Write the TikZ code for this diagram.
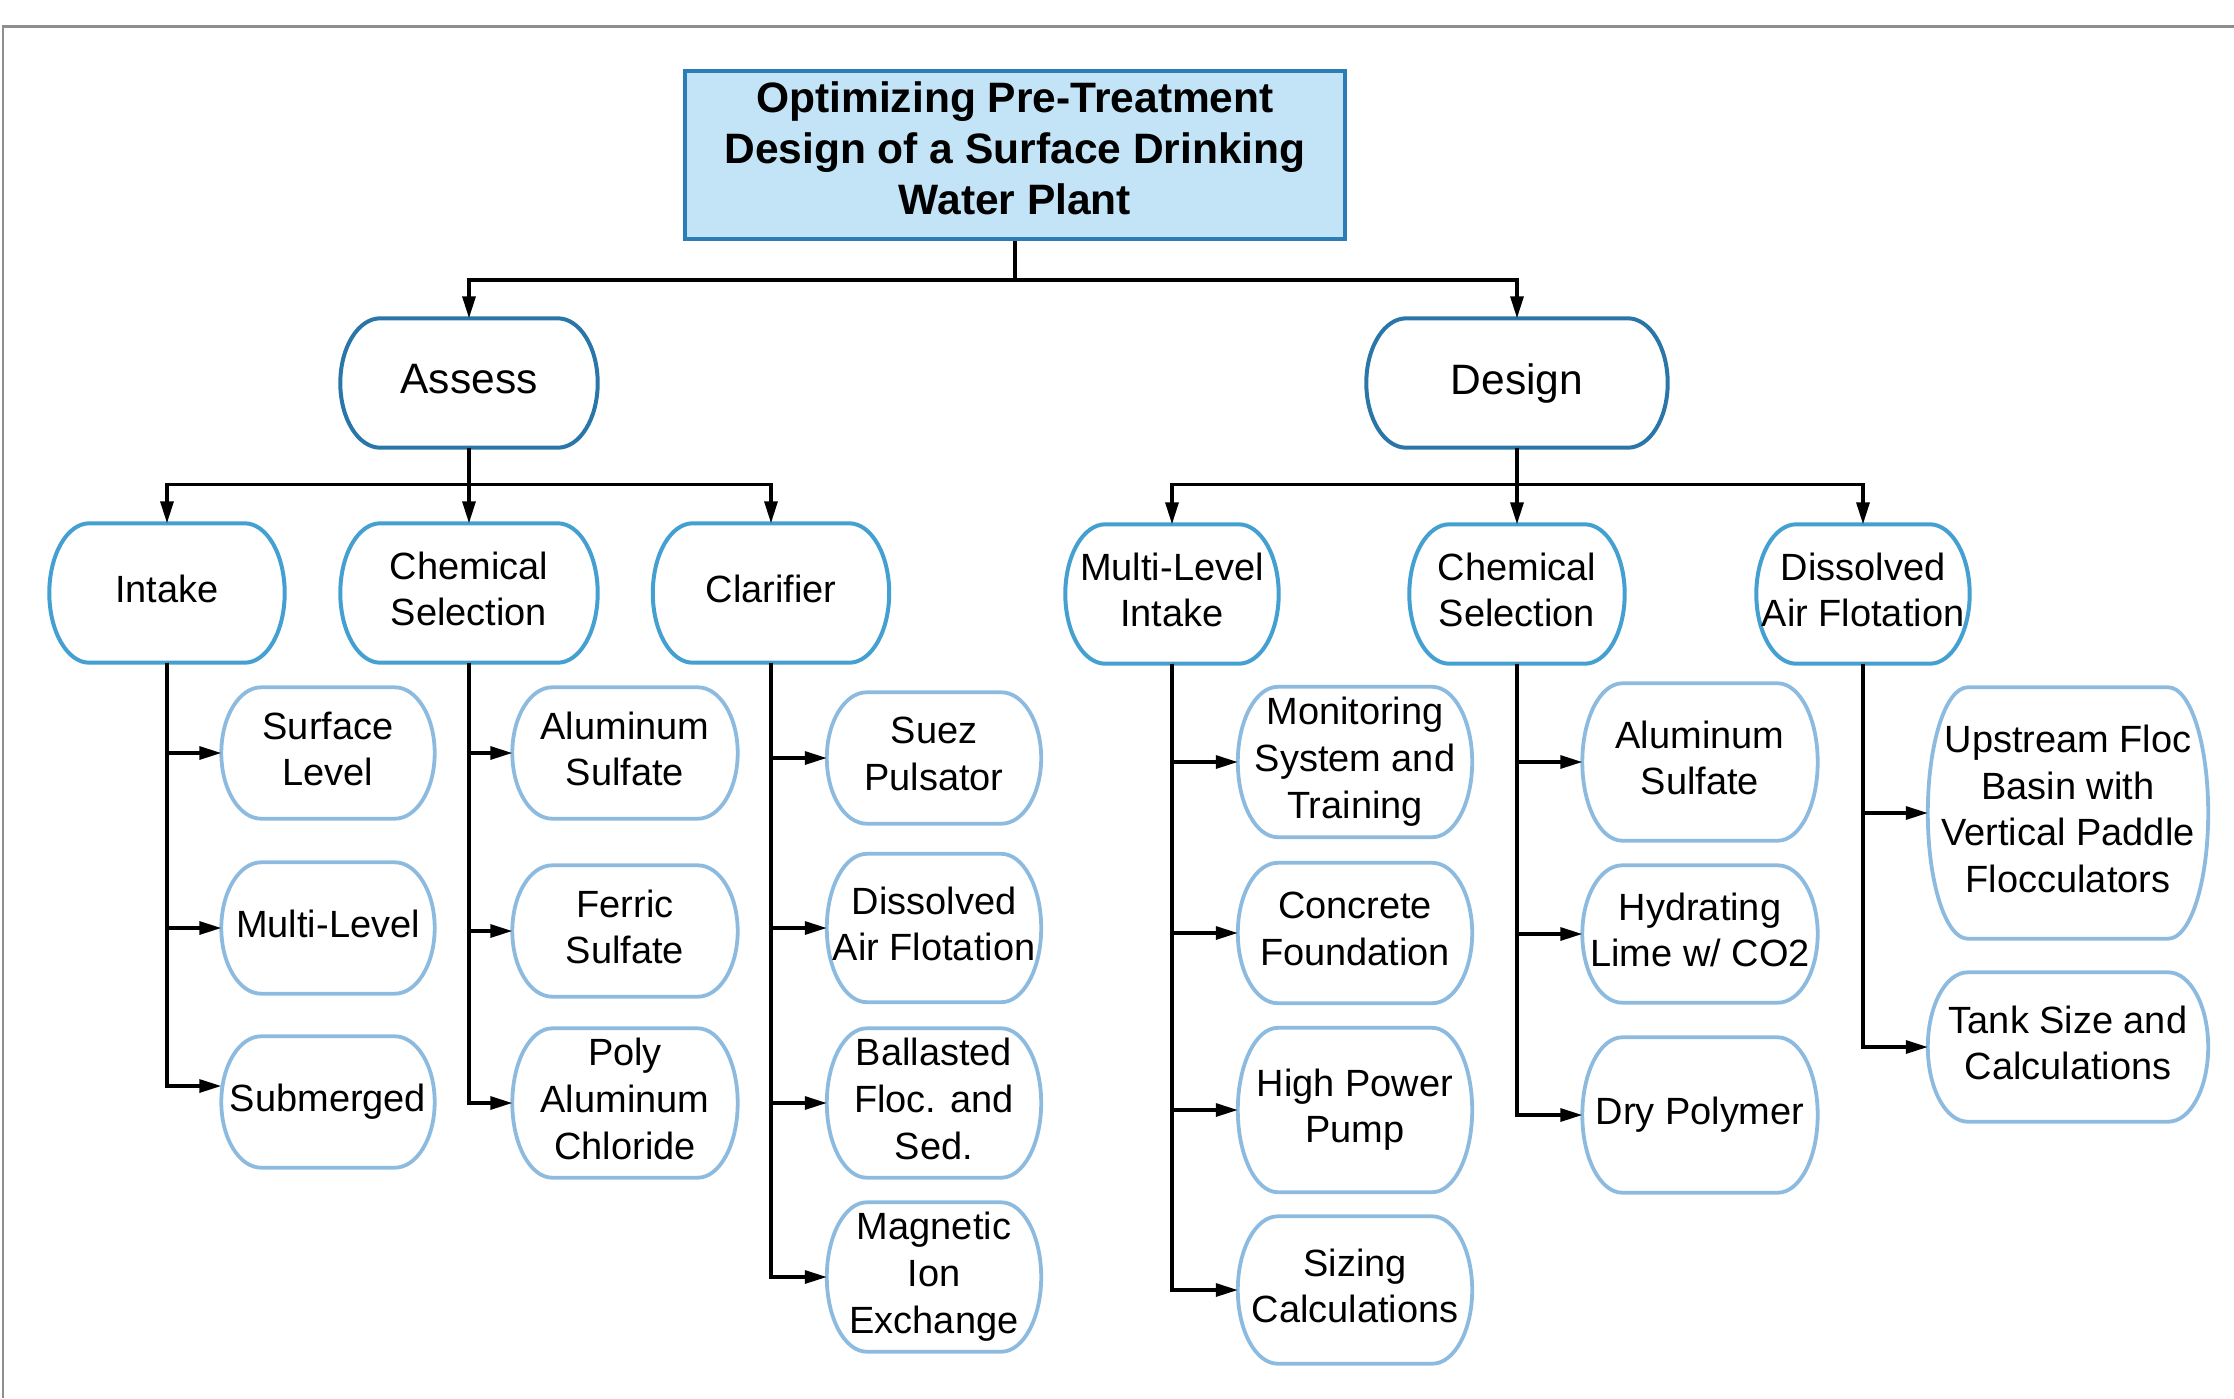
\documentclass[tikz,border=0pt]{standalone}
\usepackage{fontspec}
\setmainfont{Liberation Sans}
\usetikzlibrary{arrows.meta,calc}
\definecolor{titlefill}{HTML}{C3E3F6}
\definecolor{titleline}{HTML}{2A7DB5}
\definecolor{topline}{HTML}{2A76A8}
\definecolor{midline}{HTML}{45A0D2}
\definecolor{leafline}{HTML}{8DBBE0}
\definecolor{frameline}{HTML}{8E8E8E}

\begin{document}
\begin{tikzpicture}[x=0.1mm,y=-0.1mm,
    every node/.style={align=center,inner sep=0pt},
    pill/.style={text depth=0.85mm,append after command={\pgfextra{
        \draw[#1] let \p1=(\tikzlastnode.north west), \p2=(\tikzlastnode.south east) in
          (\x1+4mm,\y1) -- (\x2-4mm,\y1)
          arc[start angle=90,end angle=-90,x radius=4mm,y radius={(\y1-\y2)/2}]
          -- (\x1+4mm,\y2)
          arc[start angle=270,end angle=90,x radius=4mm,y radius={(\y1-\y2)/2}] -- cycle;}}},
    topnode/.style={pill={draw=topline,line width=0.4mm},minimum height=12.8mm,font=\fontsize{12.1}{14}\selectfont},
    midnode/.style={pill={draw=midline,line width=0.4mm},minimum height=13.8mm,font=\fontsize{10.8}{13.2}\selectfont},
    leaf/.style={pill={draw=leafline,line width=0.38mm},minimum width=21.2mm,minimum height=13mm,font=\fontsize{10.8}{13.3}\selectfont},
    link/.style={line width=0.32mm,-{Triangle[length=2.2mm,width=1.3mm]}}]
  \useasboundingbox (0,0) rectangle (2234,1398);
  \draw[frameline,line width=0.3mm] (3,1398) -- (3,26) -- (2234,26);

  \node[draw=titleline,fill=titlefill,line width=0.4mm,minimum width=66mm,minimum height=16.8mm,text depth=1.4mm,
        font=\bfseries\fontsize{12.1}{14.6}\selectfont] (title) at (1015,155)
        {Optimizing Pre-Treatment\\Design of a Surface Drinking\\Water Plant};

  \node[topnode,minimum width=25.6mm] (assess) at (469,383) {Assess};
  \node[topnode,minimum width=30mm] (design) at (1517,383) {Design};

  \node[midnode,minimum width=23.4mm] (intake) at (167,593) {Intake};
  \node[midnode,minimum width=25.6mm] (chemA) at (469,593) {Chemical\\Selection};
  \node[midnode,minimum width=23.5mm] (clarif) at (771,593) {Clarifier};
  \node[midnode,minimum width=21.2mm] (mli) at (1172,594) {Multi-Level\\Intake};
  \node[midnode,minimum width=21.4mm] (chemD) at (1517,594) {Chemical\\Selection};
  \node[midnode,minimum width=21.2mm] (daf) at (1863,594) {Dissolved\\Air Flotation};

  \node[leaf] (surf) at (328,753) {Surface\\Level};
  \node[leaf] (multi) at (328,928) {Multi-Level};
  \node[leaf] (subm) at (328,1102) {Submerged};

  \node[leaf,minimum width=22.4mm] (alum) at (625,753) {Aluminum\\Sulfate};
  \node[leaf,minimum width=22.4mm] (ferric) at (625,931) {Ferric\\Sulfate};
  \node[leaf,minimum width=22.4mm,minimum height=14.8mm] (pac) at (625,1103) {Poly\\Aluminum\\Chloride};

  \node[leaf,minimum width=21.3mm] (suez) at (934,758) {Suez\\Pulsator};
  \node[leaf,minimum width=21.3mm,minimum height=14.7mm] (dafc) at (934,928) {Dissolved\\Air Flotation};
  \node[leaf,minimum width=21.3mm,minimum height=14.8mm] (ballast) at (934,1103) {Ballasted\\Floc. and\\Sed.};
  \node[leaf,minimum width=21.3mm,minimum height=14.8mm] (mix) at (934,1277) {Magnetic\\Ion\\Exchange};

  \node[leaf,minimum width=23.3mm,minimum height=14.9mm] (monit) at (1355,762) {Monitoring\\System and\\Training};
  \node[leaf,minimum width=23.3mm,minimum height=13.9mm] (concr) at (1355,933) {Concrete\\Foundation};
  \node[leaf,minimum width=23.3mm,minimum height=16.3mm] (pump) at (1355,1110) {High Power\\Pump};
  \node[leaf,minimum width=23.3mm,minimum height=14.6mm] (sizing) at (1355,1290) {Sizing\\Calculations};

  \node[leaf,minimum width=23.4mm,minimum height=15.6mm] (alumD) at (1700,762) {Aluminum\\Sulfate};
  \node[leaf,minimum width=23.4mm,minimum height=13.6mm] (lime) at (1700,934) {Hydrating\\Lime w/ CO2};
  \node[leaf,minimum width=23.4mm,minimum height=15.4mm] (poly) at (1700,1115) {Dry Polymer};

  \node[leaf,minimum width=27.9mm,minimum height=25mm] (floc) at (2068,813) {Upstream Floc\\Basin with\\Vertical Paddle\\Flocculators};
  \node[leaf,minimum width=27.9mm,minimum height=14.8mm] (tank) at (2068,1047) {Tank Size and\\Calculations};

  \draw[link] (title.south) -- ++(0,39) -| (assess.north);
  \draw[link] (title.south) -- ++(0,39) -| (design.north);

  \draw[link] (assess.south) -- ++(0,37) -| (intake.north);
  \draw[link] (assess.south) -- (chemA.north);
  \draw[link] (assess.south) -- ++(0,37) -| (clarif.north);
  \draw[link] (design.south) -- ++(0,37) -| (mli.north);
  \draw[link] (design.south) -- (chemD.north);
  \draw[link] (design.south) -- ++(0,37) -| (daf.north);

  \draw[link] (intake.south) |- (surf.west);
  \draw[link] (intake.south) |- (multi.west);
  \draw[link] (intake.south) |- ([yshift=1.6mm]subm.west);
  \draw[link] (chemA.south) |- (alum.west);
  \draw[link] (chemA.south) |- (ferric.west);
  \draw[link] (chemA.south) |- (pac.west);
  \draw[link] (clarif.south) |- (suez.west);
  \draw[link] (clarif.south) |- (dafc.west);
  \draw[link] (clarif.south) |- (ballast.west);
  \draw[link] (clarif.south) |- (mix.west);

  \draw[link] (mli.south) |- (monit.west);
  \draw[link] (mli.south) |- (concr.west);
  \draw[link] (mli.south) |- (pump.west);
  \draw[link] (mli.south) |- (sizing.west);
  \draw[link] (chemD.south) |- (alumD.west);
  \draw[link] (chemD.south) |- (lime.west);
  \draw[link] (chemD.south) |- (poly.west);
  \draw[link] (daf.south) |- (floc.west);
  \draw[link] (daf.south) |- (tank.west);
\end{tikzpicture}
\end{document}
